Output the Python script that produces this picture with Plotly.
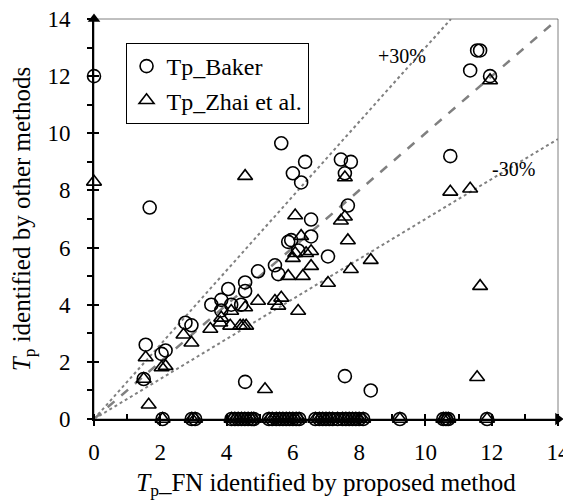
import plotly.graph_objects as go

# Tp_Baker (non-zero identifications)
baker_x = [0.0, 1.5, 1.56, 1.68, 2.04, 2.16, 2.76, 2.94, 3.54, 3.84, 3.84, 4.05, 4.14, 4.44,
           4.56, 4.56, 4.56, 4.95, 5.16, 5.46, 5.56, 5.65, 5.86, 5.95, 6.0, 6.16, 6.25, 6.37,
           6.55, 6.55, 7.06, 7.45, 7.57, 7.57, 7.66, 7.75, 8.35, 10.75, 11.35, 11.56, 11.65, 11.95]
baker_y = [12.0, 1.4, 2.6, 7.4, 2.28, 2.4, 3.37, 3.28, 4.0, 4.17, 3.8, 4.55, 4.0, 4.0,
           4.78, 4.48, 1.3, 5.17, 11.8, 5.38, 5.07, 9.65, 6.2, 6.26, 8.6, 5.9, 8.28, 9.0,
           6.98, 6.39, 5.69, 9.08, 1.5, 8.6, 7.47, 9.0, 1.0, 9.2, 12.2, 12.9, 12.9, 12.0]

# Tp_Zhai et al. (non-zero identifications)
zhai_x = [0.0, 1.5, 1.56, 1.65, 2.04, 2.16, 2.7, 2.94, 3.51, 3.81, 3.84, 4.11, 4.14, 4.41,
          4.5, 4.59, 4.56, 4.56, 4.95, 5.16, 5.46, 5.56, 5.65, 5.86, 6.0, 6.07, 6.07, 6.16,
          6.25, 6.3, 6.4, 6.55, 6.55, 7.06, 7.45, 7.57, 7.57, 7.66, 7.75, 8.35, 10.75, 11.35,
          11.56, 11.65, 11.95]
zhai_y = [8.3, 1.4, 2.15, 0.5, 1.8, 1.85, 2.95, 2.67, 3.15, 3.37, 3.54, 3.26, 3.78, 3.26,
          3.26, 3.26, 3.9, 8.5, 4.13, 1.04, 4.13, 3.96, 4.24, 5.0, 5.63, 5.8, 7.12, 3.78,
          6.4, 5.0, 5.8, 5.87, 5.35, 4.76, 6.94, 7.08, 8.45, 6.25, 5.24, 5.56, 7.95, 8.06,
          1.46, 4.65, 11.85]

# Cases where other methods identified no pulse (Tp = 0)
zero_x = [2.07, 2.95, 3.05, 4.15, 4.25, 4.35, 4.45, 4.55, 4.65, 4.75, 4.82, 5.28, 5.38, 5.5,
          5.6, 5.7, 5.8, 5.9, 6.0, 6.1, 6.19, 6.68, 6.8, 6.9, 7.0, 7.1, 7.2, 7.35, 7.5, 7.6,
          7.7, 7.8, 7.9, 8.0, 8.12, 9.23, 10.54, 10.62, 10.69, 11.86]
zero_y = [0.0] * len(zero_x)

ref_x = [0, 14]
plus30 = 1.3
minus30 = 0.7
axis_max = 14
major_ticks = [0, 2, 4, 6, 8, 10, 12, 14]

FONT = "Liberation Serif, Times New Roman, serif"
fig = go.Figure()

# reference lines
fig.add_trace(go.Scatter(x=ref_x, y=ref_x, mode="lines", showlegend=False,
                         line=dict(color="#808080", width=2.5, dash="dash")))
fig.add_trace(go.Scatter(x=[0, axis_max / plus30], y=[0, axis_max], mode="lines", showlegend=False,
                         line=dict(color="#808080", width=2, dash="dot")))
fig.add_trace(go.Scatter(x=ref_x, y=[0, axis_max * minus30], mode="lines", showlegend=False,
                         line=dict(color="#808080", width=2, dash="dot")))

mk = dict(size=13, color="black", line=dict(width=1.6, color="black"))
fig.add_trace(go.Scatter(x=baker_x + zero_x, y=baker_y + zero_y, mode="markers", name="Tp_Baker",
                         marker=dict(symbol="circle-open", **mk), cliponaxis=False))
fig.add_trace(go.Scatter(x=zhai_x + zero_x, y=zhai_y + zero_y, mode="markers", name="Tp_Zhai et al.",
                         marker=dict(symbol="triangle-up-open", **mk), cliponaxis=False))

# axis arrows
fig.add_trace(go.Scatter(x=[axis_max], y=[0], mode="markers", showlegend=False, cliponaxis=False,
                         marker=dict(symbol="triangle-right", size=11, color="black")))
fig.add_trace(go.Scatter(x=[0], y=[axis_max], mode="markers", showlegend=False, cliponaxis=False,
                         marker=dict(symbol="triangle-up", size=11, color="black")))
# dummy trace for overlay axes
fig.add_trace(go.Scatter(x=[None], y=[None], xaxis="x2", yaxis="y2", showlegend=False))

fig.add_annotation(x=9.3, y=12.7, text="+30%", showarrow=False,
                   font=dict(family=FONT, size=20, color="black"))
fig.add_annotation(x=12.65, y=8.75, text="-30%", showarrow=False,
                   font=dict(family=FONT, size=20, color="black"))

# gray frame
fig.add_shape(type="rect", xref="paper", yref="paper", x0=0, y0=0, x1=1, y1=1,
              line=dict(color="#808080", width=1), layer="below")

tickfont = dict(family=FONT, size=23, color="black")
titlefont = dict(family=FONT, size=25, color="black")
fig.update_layout(
    width=563, height=494,
    margin=dict(l=86, r=13, t=11, b=83),
    paper_bgcolor="white", plot_bgcolor="white",
    font=dict(family=FONT, size=23, color="black"),
    showlegend=True,
    legend=dict(x=0.068, y=0.94, xanchor="left", yanchor="top",
                bordercolor="black", borderwidth=1, bgcolor="white",
                font=dict(family=FONT, size=24, color="black"),
                itemwidth=30, tracegroupgap=0),
    xaxis=dict(range=[0, axis_max], tickvals=major_ticks, ticks="outside", ticklen=5,
               tickwidth=1.5, tickcolor="black", showgrid=False, zeroline=False,
               showline=True, linecolor="black", linewidth=2, tickfont=tickfont,
               automargin=False, ticklabelstandoff=6, ticklabeloverflow="allow",
               minor=dict(dtick=1, ticks="inside", ticklen=5, tickwidth=1.5, tickcolor="black"),
               title=dict(text="<i>T</i><sub>p</sub>_FN identified by proposed method",
                          font=titlefont, standoff=10)),
    yaxis=dict(range=[0, axis_max], tickvals=major_ticks, ticks="outside", ticklen=5,
               tickwidth=1.5, tickcolor="black", showgrid=False, zeroline=False,
               showline=True, linecolor="black", linewidth=2, tickfont=tickfont,
               automargin=False, ticklabelstandoff=12, ticklabeloverflow="allow",
               minor=dict(dtick=1, ticks="outside", ticklen=5, tickwidth=1.5, tickcolor="black"),
               title=dict(text="<i>T</i><sub>p</sub> identified by other methods",
                          font=titlefont, standoff=10)),
    xaxis2=dict(range=[0, axis_max], overlaying="x", tickvals=major_ticks, ticks="inside",
                ticklen=5, tickwidth=1.5, tickcolor="black", showticklabels=False,
                showgrid=False, zeroline=False, showline=False, side="bottom", automargin=False),
    yaxis2=dict(range=[0, axis_max], overlaying="y", tickvals=major_ticks, ticks="inside",
                ticklen=5, tickwidth=1.5, tickcolor="black", showticklabels=False,
                showgrid=False, zeroline=False, showline=False, side="left", automargin=False),
)

fig.write_html("out.html")
